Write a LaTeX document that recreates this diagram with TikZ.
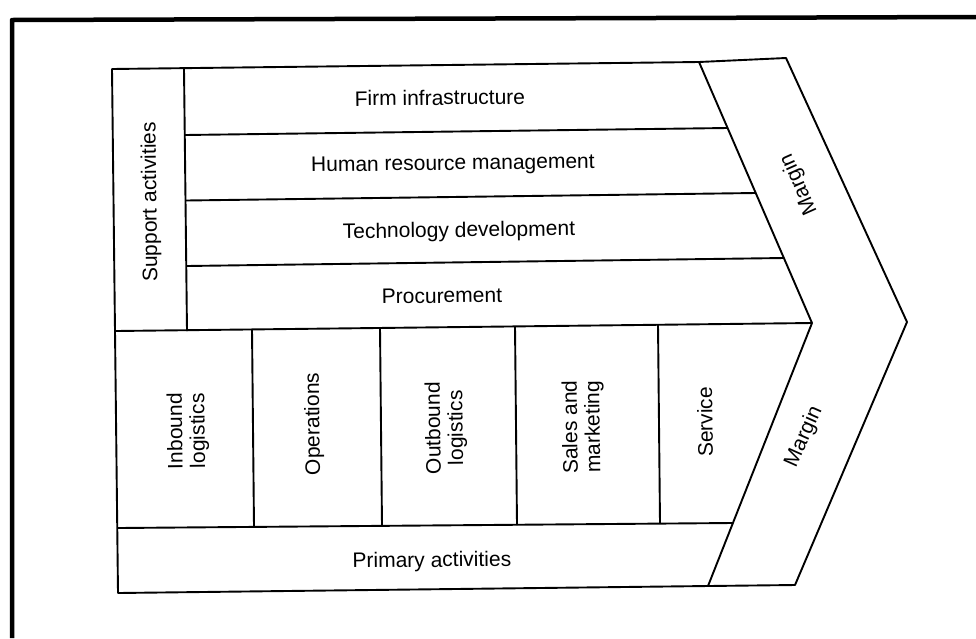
\documentclass[tikz,border=0pt]{standalone}
\usepackage{fontspec}
\setmainfont{Liberation Sans}
\begin{document}
\begin{tikzpicture}[x=1pt,y=-1pt,line join=round,
  lbl/.style={font=\fontsize{21}{22.5}\selectfont,inner sep=0pt,align=center},
  hlbl/.style={lbl,anchor=base,rotate=0.7},
  vlbl/.style={lbl,anchor=center,rotate=90.7},
  edge/.style={line width=1.9pt},
  frameline/.style={line width=4.5pt}]
\useasboundingbox (0,0) rectangle (976,638);
% outer frame (top and left sides only visible)
\draw[frameline] (12,638) -- (12,20) -- (976,17);
% key corners
\coordinate (TL)  at (112,69);
\coordinate (TRi) at (699,62);
\coordinate (TRo) at (786,58);
\coordinate (OP)  at (907,322);
\coordinate (IP)  at (812,323);
\coordinate (BRo) at (795,585);
\coordinate (BRi) at (708,586);
\coordinate (BL)  at (118,593);
\coordinate (PL)  at (116,331);
\coordinate (QL)  at (118,528);
\coordinate (QR)  at (732,523);
% outline of the chevron
\draw[edge] (TL) -- (TRi) -- (TRo) -- (OP) -- (BRo) -- (BRi) -- (BL) -- cycle;
% margin band inner edge
\draw[edge] (TRi) -- (IP) -- (BRi);
% support column
\draw[edge] (184,69) -- (187,331);
% support rows
\draw[edge] (185,135) -- (727.5,128);
\draw[edge] (186,200.5) -- (755.5,193);
\draw[edge] (186.5,266) -- (784,258);
\draw[edge] (PL) -- (IP);
% primary boxes
\draw[edge] (QL) -- (QR);
\draw[edge] (252,329.4) -- (254,527);
\draw[edge] (380,328) -- (382,526);
\draw[edge] (515,326.4) -- (517,525);
\draw[edge] (658,324.8) -- (660,523.6);
% labels
\node[hlbl] (firm) at (440,105) {Firm infrastructure};
\node[hlbl] (hrm)  at (453,170) {Human resource management};
\node[hlbl] (tech) at (459,237) {Technology development};
\node[hlbl] (proc) at (442,303) {Procurement};
\node[hlbl] (prim) at (432,567) {Primary activities};
\node[vlbl] (supp) at (151,202) {Support activities};
\node[vlbl] (inb)  at (188,431) {Inbound\\logistics};
\node[vlbl] (ops)  at (314,424) {Operations};
\node[vlbl] (outb) at (446,428) {Outbound\\logistics};
\node[vlbl] (sales) at (583,427) {Sales and\\marketing};
\node[vlbl] (serv) at (705,422) {Service};
\node[lbl,rotate=114] (mtop) at (799,184) {Margin};
\node[lbl,rotate=66] (mbot) at (804,437) {Margin};
\end{tikzpicture}
\end{document}
